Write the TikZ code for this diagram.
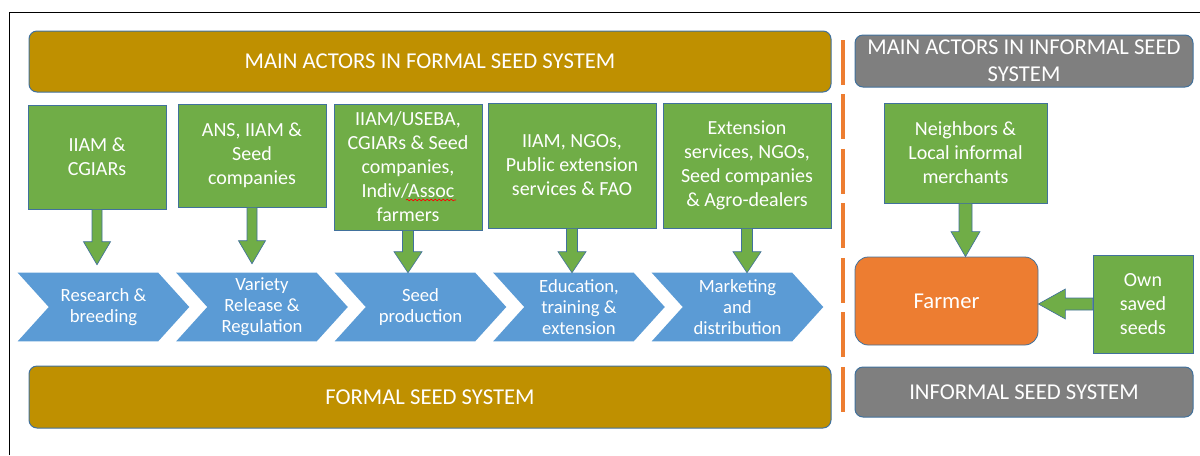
\documentclass[tikz,border=0pt]{standalone}
\usepackage{fontspec}
\setmainfont{Carlito}
\usetikzlibrary{calc,decorations.pathmorphing}

\definecolor{gold}{HTML}{BF9000}
\definecolor{leaf}{HTML}{70AD47}
\definecolor{sky}{HTML}{5B9BD5}
\definecolor{ember}{HTML}{ED7D31}
\definecolor{slate}{HTML}{7F7F7F}
\definecolor{edge}{HTML}{41719C}

\pgfdeclarelayer{background}
\pgfsetlayers{background,main}

\tikzset{
  every node/.style={text=white, align=center, inner sep=0pt},
  banner/.style={fill=gold, draw=edge, line width=0.75pt, rounded corners=6pt,
    minimum width={802*0.75pt}, font=\fontsize{17}{20}\selectfont},
  greybanner/.style={fill=slate, draw=edge, line width=0.75pt, rounded corners=6pt,
    minimum width={338*0.75pt}, font=\fontsize{17}{20}\selectfont},
  actor/.style={fill=leaf, draw=edge, line width=0.6pt, font=\fontsize{15}{18}\selectfont},
  stage/.style={minimum width={171*0.75pt}, minimum height={68*0.75pt},
    font=\fontsize{14}{15.75}\selectfont},
  chevronfill/.style={fill=sky},
  blockarrow/.style={fill=leaf, draw=edge, line width=0.5pt, line join=miter},
  divider/.style={draw=ember, line width=3pt, dash pattern=on 33.75pt off 7.1pt},
  frame/.style={draw=black, line width=0.9pt},
}

% chevron shape drawn behind a stage node
\newcommand\chevronbehind[1]{%
  \fill[chevronfill] (#1.north west) -- ($(#1.north east)+(-31,0)$) -- (#1.east)
    -- ($(#1.south east)+(-31,0)$) -- (#1.south west) -- ($(#1.west)+(31,0)$) -- cycle;}

% block arrow pointing down: source, target, gap, shaft half width, head half width, head length (px)
\newcommand\arrowdown[6]{%
  \path[blockarrow] let \p1=(#1.south), \p2=(#2.north) in
    (\x1-#4*0.75pt,\y1) -- (\x1-#4*0.75pt,\y2+#3*0.75pt+#6*0.75pt)
    -- (\x1-#5*0.75pt,\y2+#3*0.75pt+#6*0.75pt) -- (\x1,\y2+#3*0.75pt)
    -- (\x1+#5*0.75pt,\y2+#3*0.75pt+#6*0.75pt) -- (\x1+#4*0.75pt,\y2+#3*0.75pt+#6*0.75pt)
    -- (\x1+#4*0.75pt,\y1) -- cycle;}

% block arrow pointing left: source, target, shaft half height, head half height, head length (px)
\newcommand\arrowleft[5]{%
  \path[blockarrow] let \p1=(#1.west), \p2=(#2.east) in
    (\x1,\y1+#3*0.75pt) -- (\x2+#5*0.75pt,\y1+#3*0.75pt) -- (\x2+#5*0.75pt,\y1+#4*0.75pt)
    -- (\x2,\y1) -- (\x2+#5*0.75pt,\y1-#4*0.75pt) -- (\x2+#5*0.75pt,\y1-#3*0.75pt)
    -- (\x1,\y1-#3*0.75pt) -- cycle;}

\begin{document}
\begin{tikzpicture}[x=0.75pt, y=-0.75pt]
\useasboundingbox (0,0) rectangle (1200,455);

% outer frame (left and top edges)
\coordinate (fbl) at (9.5,455);
\coordinate (ftl) at (9.5,12.5);
\coordinate (ftr) at (1200,12.5);
\draw[frame] (fbl) -- (ftl) -- (ftr);

% formal system banners
\node[banner, minimum height={61*0.75pt}] (ftop) at (430,61.5) {MAIN ACTORS IN FORMAL SEED SYSTEM};
\node[banner, minimum height={62*0.75pt}] (fbot) at (430,397) {FORMAL SEED SYSTEM};

% actors of the formal system
\node[actor, minimum width={138*0.75pt}, minimum height={104*0.75pt}] (a1) at (97,157)
  {IIAM \&\\CGIARs};
\node[actor, minimum width={148*0.75pt}, minimum height={103*0.75pt}] (a2) at (252,155.5)
  {ANS, IIAM \&\\Seed\\companies};
\node[actor, minimum width={148*0.75pt}, minimum height={126*0.75pt}] (a3) at (408,167)
  {IIAM/USEBA,\\CGIARs \& Seed\\companies,\\Indiv/Assoc\\farmers};
\node[actor, minimum width={168*0.75pt}, minimum height={125*0.75pt}] (a4) at (572,165.5)
  {IIAM, NGOs,\\Public extension\\services \& FAO};
\node[actor, minimum width={168*0.75pt}, minimum height={125*0.75pt}] (a5) at (747,165.5)
  {Extension\\services, NGOs,\\Seed companies\\\& Agro-dealers};
\draw[red, line width=0.5pt, decorate, decoration={snake, amplitude=0.6pt, segment length=3pt}]
  ($(a3)+(-2,33)$) -- ($(a3)+(48,33)$);

% value chain stages
\node[stage] (s1) at (103.5,307) {Research \&\\breeding};
\node[stage] (s2) at (262,307) {Variety\\Release \&\\Regulation};
\node[stage] (s3) at (420.5,307) {Seed\\production};
\node[stage] (s4) at (579,307) {Education,\\training \&\\extension};
\node[stage] (s5) at (737.5,307) {Marketing\\and\\distribution};
\begin{pgfonlayer}{background}
  \chevronbehind{s1}
  \chevronbehind{s2}
  \chevronbehind{s3}
  \chevronbehind{s4}
  \chevronbehind{s5}
\end{pgfonlayer}

% actors feed the stages
\arrowdown{a1}{s1}{8}{5}{13.5}{23}
\arrowdown{a2}{s2}{9}{5}{13.5}{23}
\arrowdown{a3}{s3}{0}{5.5}{14}{21}
\arrowdown{a4}{s4}{0}{5.5}{14}{21}
\arrowdown{a5}{s5}{0}{5.5}{14}{21}

% separator between the two systems
\coordinate (dtop) at (843,40);
\coordinate (dbot) at (843,412);
\draw[divider] (dtop) -- (dbot);

% informal system
\node[greybanner, minimum height={52*0.75pt}] (itop) at (1024,61)
  {MAIN ACTORS IN INFORMAL SEED\\SYSTEM};
\node[greybanner, minimum height={50*0.75pt}] (ibot) at (1024,392) {INFORMAL SEED SYSTEM};
\node[actor, minimum width={163*0.75pt}, minimum height={100*0.75pt}] (nb) at (965.5,153)
  {Neighbors \&\\Local informal\\merchants};
\node[fill=ember, draw=edge, line width=0.6pt, rounded corners=10pt,
  minimum width={183*0.75pt}, minimum height={88*0.75pt},
  font=\fontsize{17}{20}\selectfont] (farmer) at (946.5,301) {Farmer};
\node[actor, minimum width={100*0.75pt}, minimum height={98*0.75pt}] (own) at (1143,304)
  {Own\\saved\\seeds};
\arrowdown{nb}{farmer}{0}{6.5}{14.5}{25}
\arrowleft{own}{farmer}{6}{15}{27}
\end{tikzpicture}
\end{document}
